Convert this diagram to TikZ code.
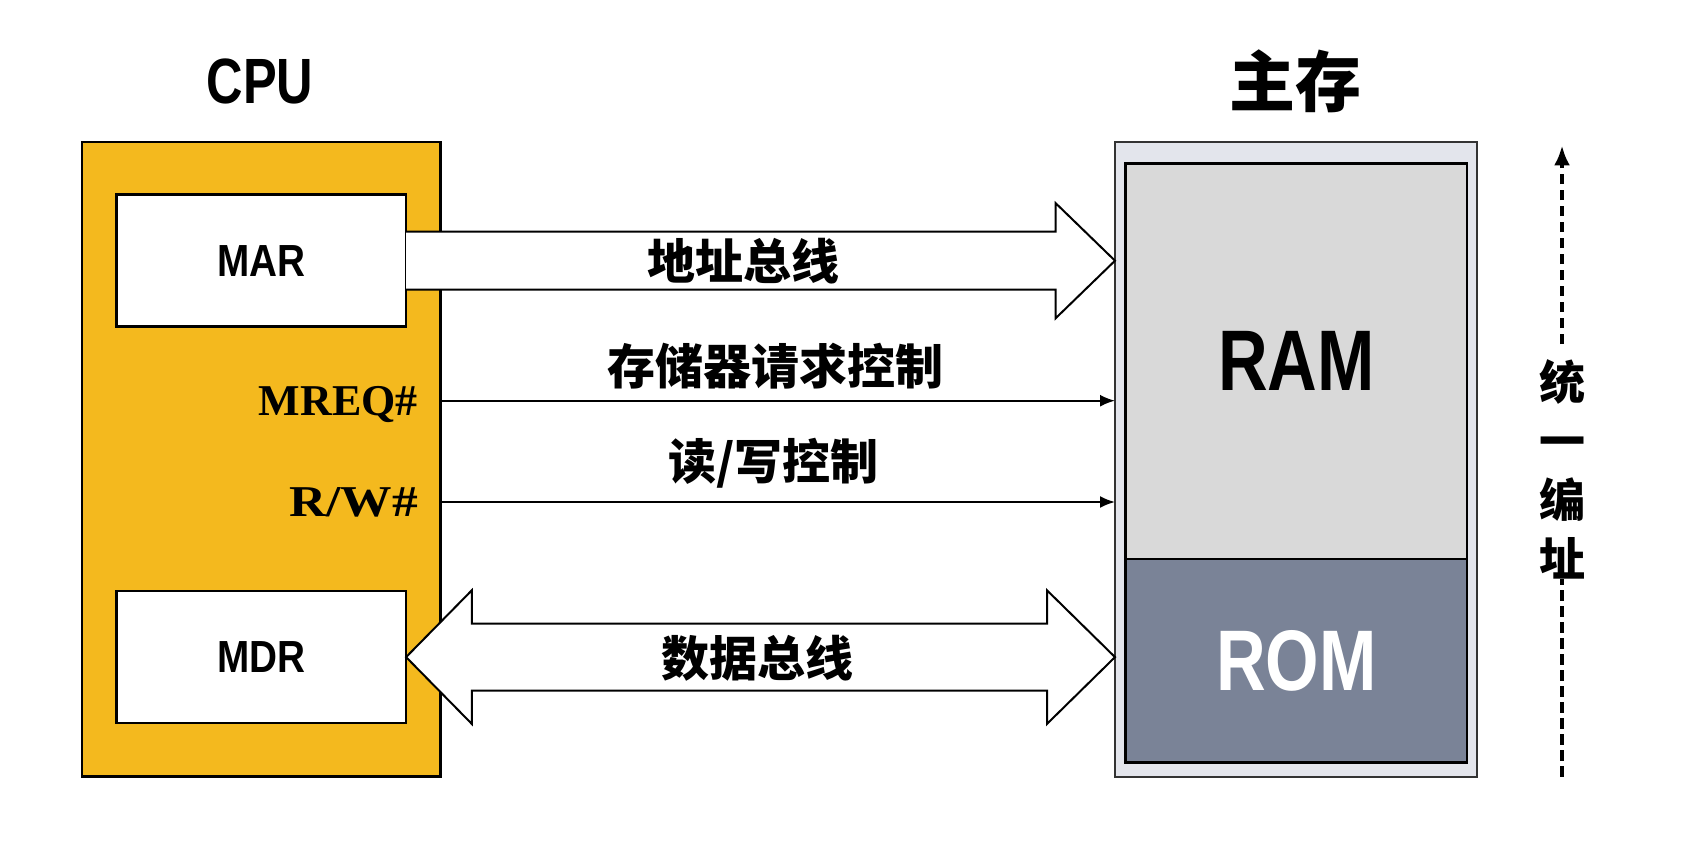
\documentclass[tikz,border=0pt]{standalone}
\usepackage{fontspec}
\usepackage{graphicx}
\setmainfont{Liberation Sans}
\newfontfamily\serifb{Liberation Serif}
\newfontfamily\cjk{Noto Sans CJK SC}
\usetikzlibrary{arrows.meta}
\definecolor{cpuorange}{RGB}{244,185,30}
\definecolor{memframe}{RGB}{227,229,236}
\definecolor{ramgray}{RGB}{217,217,217}
\definecolor{romslate}{RGB}{122,131,151}
\newcommand{\narrowtxt}[2]{\scalebox{#1}[1]{#2}}
\begin{document}
\begin{tikzpicture}[x=1pt,y=-1pt,
  boxline/.style={draw=black, line width=2.5pt, outer sep=0pt, inner sep=0pt},
  regbox/.style={boxline, fill=white, minimum width=289.8pt, minimum height=132pt,
     font=\fontsize{45}{45}\selectfont\bfseries},
  bigtitle/.style={inner sep=0pt, font=\fontsize{64}{64}\selectfont\bfseries},
  cjklbl/.style={inner sep=0pt, font=\cjk\bfseries\fontsize{48}{48}\selectfont},
  siglbl/.style={inner sep=0pt, font=\serifb\bfseries\fontsize{44}{44}\selectfont},
  sigline/.style={line width=2pt, -{Latex[length=15pt,width=12pt]}},
  busarrow/.style={draw=black, line width=2pt, fill=white, line join=miter},
  memtxt/.style={font=\fontsize{86}{86}\selectfont\bfseries},
  dashline/.style={line width=4pt, dash pattern=on 10.5pt off 5.5pt}
]
\useasboundingbox[fill=white] (0,0) rectangle (1689,849);

% titles
\node[bigtitle, anchor=base] (cputitle) at (260,103) {\narrowtxt{0.79}{CPU}};
\node[inner sep=0pt, font=\cjk\bfseries\fontsize{66}{66}\selectfont] (memtitle) at (1295,81) {主存};

% CPU
\node[boxline, fill=cpuorange, minimum width=358.7pt, minimum height=634.5pt] (cpu) at (261.25,459.45) {};
\node[regbox] (mar) at (261.2,260.7) {\narrowtxt{0.86}{MAR}};
\node[regbox] (mdr) at (261.2,657.1) {\narrowtxt{0.86}{MDR}};
\node[siglbl, anchor=base east] (mreq) at (418,415.2) {MREQ\#};
\node[siglbl, anchor=base east] (rw) at (418,516.5) {\narrowtxt{1.17}{R/W\#}};

% main memory
\node[draw=black!80, line width=2pt, fill=memframe, outer sep=0pt, minimum width=361.8pt, minimum height=634.5pt] (mem) at (1295.9,459.45) {};
\node[boxline, fill=ramgray, minimum width=341.4pt, minimum height=395.3pt, memtxt] (ram) at (1296.4,361.35) {\narrowtxt{0.8}{RAM}};
\node[boxline, fill=romslate, minimum width=341.4pt, minimum height=203.7pt, memtxt, text=white] (rom) at (1296.4,660.85) {\narrowtxt{0.8}{ROM}};

% address bus
\fill[white] (mar.east |- 0,231.7) -- (1055.7,231.7) -- (1055.7,203.2) -- (mem.west |- mar.east) -- (1055.7,318.2) -- (1055.7,289.7) -- (mar.east |- 0,289.7) -- cycle;
\draw[busarrow, fill=none] (mar.east |- 0,231.7) -- (1055.7,231.7) -- (1055.7,203.2) -- (mem.west |- mar.east) -- (1055.7,318.2) -- (1055.7,289.7) -- (mar.east |- 0,289.7);
\node[cjklbl] (addrlbl) at (743,260.7) {地址总线};

% control lines
\draw[sigline] (cpu.east |- 0,400.7) -- (mem.west |- 0,400.7);
\node[cjklbl] (mreqlbl) at (775,366) {存储器请求控制};
\draw[sigline] (cpu.east |- 0,502) -- (mem.west |- 0,502);
\node[cjklbl] (rwlbl) at (773.5,463) {读/写控制};

% data bus
\draw[busarrow] (mdr.east) -- (471.8,590.3) -- (471.8,623.7) -- (1047,623.7) -- (1047,590.3) -- (mem.west |- mdr.east) -- (1047,723.9) -- (1047,690.5) -- (471.8,690.5) -- (471.8,723.9) -- cycle;
\node[cjklbl] (datalbl) at (757.8,658.2) {数据总线};

% unified addressing
\node[inner sep=0pt, outer sep=0pt, align=center,
      font=\cjk\bfseries\fontsize{46}{59}\selectfont] (unif) at (1562,469) {统\\一\\编\\址};
\coordinate (utop) at (1562,145.4);
\coordinate (ubot) at (1562,776.7);
\draw[dashline] (ubot) -- (unif.south);
\draw[dashline, shorten <=15pt, -{Latex[length=20pt,width=16pt]}] (unif.north) -- (utop);
\end{tikzpicture}
\end{document}
